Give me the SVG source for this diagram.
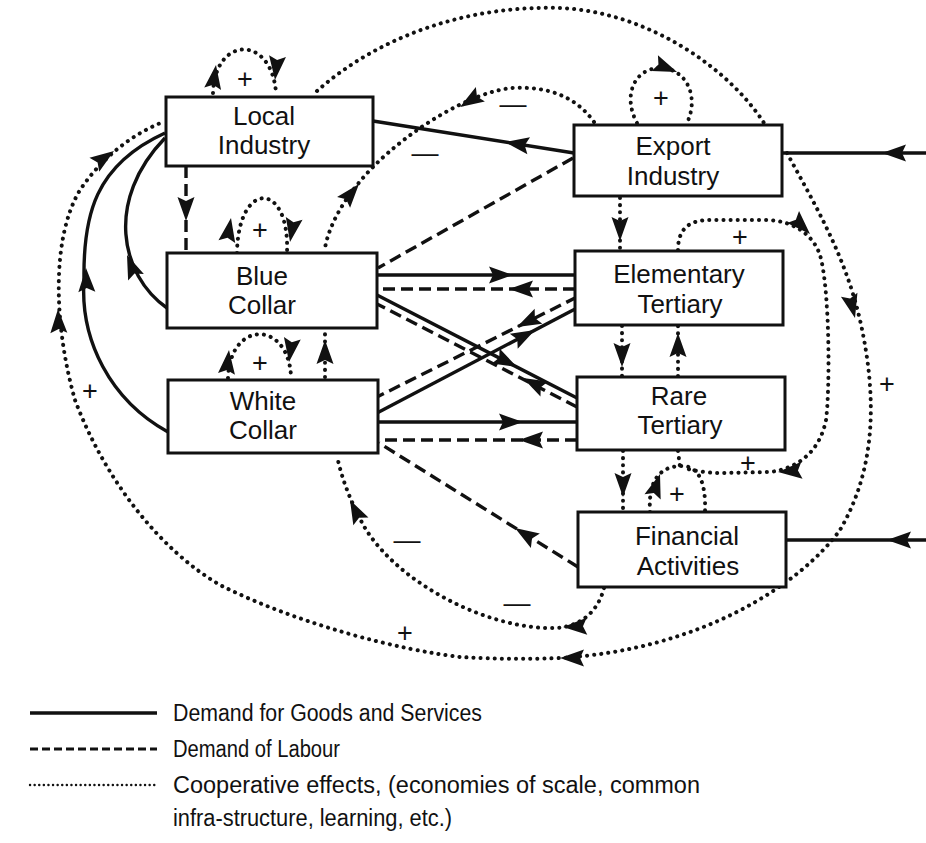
<svg xmlns="http://www.w3.org/2000/svg" width="926" height="843" viewBox="0 0 926 843">
  <style>
    .goods { fill: none; stroke: #111; stroke-width: 3.4; }
    .labour { fill: none; stroke: #111; stroke-width: 3.4; stroke-dasharray: 12 6; }
    .coop { fill: none; stroke: #111; stroke-width: 4; stroke-dasharray: 0.1 7; stroke-linecap: round; }
    .box { fill: #fff; stroke: #111; stroke-width: 3; }
    .lbl { font-family: "Liberation Sans", Arial, sans-serif; font-size: 26px; fill: #111; text-anchor: middle; }
    .sign { font-family: "Liberation Sans", Arial, sans-serif; font-size: 27px; fill: #111; text-anchor: middle; }
    .legend { font-family: "Liberation Sans", Arial, sans-serif; font-size: 23px; fill: #111; }
    .head { fill: #111; }
  </style>
  <defs>
    <path id="ah" d="M0,0 L-24,-8.5 L-20,0 L-24,8.5 Z"/>
  </defs>
  <rect width="926" height="843" fill="#fff"/>

  <g id="connectors">
    <!-- demand for goods and services -->
    <path class="goods" d="M574,153 L373,121"/>
    <path class="goods" d="M377,275 L575,275"/>
    <path class="goods" d="M377,295 L577,398"/>
    <path class="goods" d="M377,413 L577,308"/>
    <path class="goods" d="M378,422 L577,422"/>
    <path class="goods" d="M167,308 C120,275 105,200 165,138"/>
    <path class="goods" d="M168,432 C110,400 80,340 84,280 C83,215 95,165 165,133"/>
    <path class="goods" d="M926,153 L782,153"/>
    <path class="goods" d="M926,540 L786,540"/>

    <!-- demand of labour -->
    <path class="labour" d="M186,166 L186,253"/>
    <path class="labour" d="M573,158 L378,268"/>
    <path class="labour" d="M575,289 L377,289"/>
    <path class="labour" d="M577,407 L377,304"/>
    <path class="labour" d="M577,297 L377,397"/>
    <path class="labour" d="M577,440 L378,440"/>
    <path class="labour" d="M578,567 L379,443"/>

    <!-- cooperative effects -->
    <path class="coop" d="M213,93 C215,35 272,35 276,93"/>
    <path class="coop" d="M237,253 C238,180 290,180 287,253"/>
    <path class="coop" d="M228,378 C230,320 288,320 291,376"/>
    <path class="coop" d="M325,377 L325,333"/>
    <path class="coop" d="M637,123 C622,95 635,68 660,68 C685,68 700,95 687,123"/>
    <path class="coop" d="M620,198 L620,250"/>
    <path class="coop" d="M622,326 L622,377"/>
    <path class="coop" d="M678,376 L678,326"/>
    <path class="coop" d="M623,451 L623,512"/>
    <path class="coop" d="M678,250 C678,228 690,220 710,220 L765,220 C790,220 812,232 820,255 C830,290 830,390 826,420 C820,450 800,468 770,472 L720,473 C705,473 690,470 685,468"/>
    <path class="coop" d="M650,512 C648,480 660,466 682,466 C700,466 706,485 705,512"/>
    <path class="coop" d="M678,451 L680,467"/>
    <path class="coop" d="M604,588 C598,612 580,627 555,628 C490,630 400,585 365,528 C352,505 342,480 337,456"/>
    <path class="coop" d="M594,122 C575,95 545,86 512,88 C470,92 410,130 375,165 C350,190 330,220 325,248"/>
    <path class="coop" d="M317,91 C380,35 470,5 560,8 C650,12 730,70 764,123"/>
    <path class="coop" d="M787,153 C815,205 845,255 860,320 C878,400 875,470 840,530 C800,585 700,650 560,658 C510,660 480,658 460,657 C400,650 300,625 220,585 C160,550 105,480 75,400 C55,330 50,240 80,190 C100,160 130,135 163,122"/>

    <!-- arrowheads -->
    <g class="head">
      <use href="#ah" transform="translate(505,142) rotate(189)"/>
      <use href="#ah" transform="translate(513,275)"/>
      <use href="#ah" transform="translate(517,367) rotate(27.3)"/>
      <use href="#ah" transform="translate(535,330) rotate(-27.7)"/>
      <use href="#ah" transform="translate(523,422)"/>
      <use href="#ah" transform="translate(127,255) rotate(-112)"/>
      <use href="#ah" transform="translate(86,268) rotate(-92)"/>
      <use href="#ah" transform="translate(882,153) rotate(180)"/>
      <use href="#ah" transform="translate(887,540) rotate(180)"/>

      <use href="#ah" transform="translate(186,221) rotate(90)"/>
      <use href="#ah" transform="translate(509,289) rotate(180)"/>
      <use href="#ah" transform="translate(523,378) rotate(207.2)"/>
      <use href="#ah" transform="translate(517,327) rotate(153.4)"/>
      <use href="#ah" transform="translate(519,440) rotate(180)"/>
      <use href="#ah" transform="translate(515,528) rotate(211.9)"/>

      <use href="#ah" transform="translate(216,65) rotate(-82)"/>
      <use href="#ah" transform="translate(275,80) rotate(96)"/>
      <use href="#ah" transform="translate(231,218) rotate(-80)"/>
      <use href="#ah" transform="translate(290,242) rotate(100)"/>
      <use href="#ah" transform="translate(229,350) rotate(-84)"/>
      <use href="#ah" transform="translate(289,362) rotate(98)"/>
      <use href="#ah" transform="translate(325,340) rotate(-90)"/>
      <use href="#ah" transform="translate(677,72) rotate(22)"/>
      <use href="#ah" transform="translate(620,241) rotate(90)"/>
      <use href="#ah" transform="translate(622,367) rotate(90)"/>
      <use href="#ah" transform="translate(678,333) rotate(-90)"/>
      <use href="#ah" transform="translate(623,497) rotate(90)"/>
      <use href="#ah" transform="translate(810,234) rotate(45)"/>
      <use href="#ah" transform="translate(778,472) rotate(176)"/>
      <use href="#ah" transform="translate(660,474) rotate(-72)"/>
      <use href="#ah" transform="translate(563,627) rotate(178)"/>
      <use href="#ah" transform="translate(350,500) rotate(-117)"/>
      <use href="#ah" transform="translate(460,107) rotate(148)"/>
      <use href="#ah" transform="translate(359,184) rotate(-50)"/>
      <use href="#ah" transform="translate(855,318) rotate(76)"/>
      <use href="#ah" transform="translate(560,658) rotate(180)"/>
      <use href="#ah" transform="translate(58,309) rotate(-92)"/>
      <use href="#ah" transform="translate(114,151) rotate(-35)"/>
    </g>

    <!-- polarity signs -->
    <text class="sign" x="245" y="88">+</text>
    <text class="sign" x="260" y="239">+</text>
    <text class="sign" x="260" y="372">+</text>
    <text class="sign" x="661" y="107">+</text>
    <text class="sign" x="740" y="246">+</text>
    <text class="sign" x="887" y="393">+</text>
    <text class="sign" x="748" y="472">+</text>
    <text class="sign" x="677" y="503">+</text>
    <text class="sign" x="90" y="400">+</text>
    <text class="sign" x="405" y="642">+</text>
    <text class="sign" x="425" y="162">—</text>
    <text class="sign" x="513" y="113">—</text>
    <text class="sign" x="407" y="549">—</text>
    <text class="sign" x="517" y="612">—</text>
  </g>

  <g id="local-industry">
    <rect class="box" x="166" y="97" width="207" height="69"/>
    <text class="lbl" x="264" y="125">Local</text>
    <text class="lbl" x="264" y="154">Industry</text>
  </g>
  <g id="export-industry">
    <rect class="box" x="574" y="125" width="208" height="71"/>
    <text class="lbl" x="673" y="155">Export</text>
    <text class="lbl" x="673" y="185">Industry</text>
  </g>
  <g id="blue-collar">
    <rect class="box" x="167" y="253" width="210" height="75"/>
    <text class="lbl" x="262" y="285">Blue</text>
    <text class="lbl" x="262" y="314">Collar</text>
  </g>
  <g id="elementary-tertiary">
    <rect class="box" x="575" y="251" width="208" height="74"/>
    <text class="lbl" x="679" y="283">Elementary</text>
    <text class="lbl" x="680" y="313">Tertiary</text>
  </g>
  <g id="white-collar">
    <rect class="box" x="168" y="380" width="210" height="73"/>
    <text class="lbl" x="263" y="410">White</text>
    <text class="lbl" x="263" y="439">Collar</text>
  </g>
  <g id="rare-tertiary">
    <rect class="box" x="577" y="377" width="208" height="73"/>
    <text class="lbl" x="679" y="405">Rare</text>
    <text class="lbl" x="680" y="434">Tertiary</text>
  </g>
  <g id="financial-activities">
    <rect class="box" x="578" y="512" width="208" height="75"/>
    <text class="lbl" x="687" y="545">Financial</text>
    <text class="lbl" x="688" y="575">Activities</text>
  </g>

  <g id="legend">
    <path class="goods" d="M30,713 L157,713"/>
    <text class="legend" x="173" y="721" textLength="309" lengthAdjust="spacingAndGlyphs">Demand for Goods and Services</text>
    <path class="labour" d="M30,749 L157,749" style="stroke-dasharray: 8 4; stroke-width: 2.8"/>
    <text class="legend" x="173" y="757" textLength="167" lengthAdjust="spacingAndGlyphs">Demand of Labour</text>
    <path class="coop" d="M30,785 L157,785" style="stroke-dasharray: 0.1 4.5; stroke-width: 2.4"/>
    <text class="legend" x="173" y="793" textLength="527" lengthAdjust="spacingAndGlyphs">Cooperative effects, (economies of scale, common</text>
    <text class="legend" x="173" y="826" textLength="279" lengthAdjust="spacingAndGlyphs">infra-structure, learning, etc.)</text>
  </g>
</svg>
